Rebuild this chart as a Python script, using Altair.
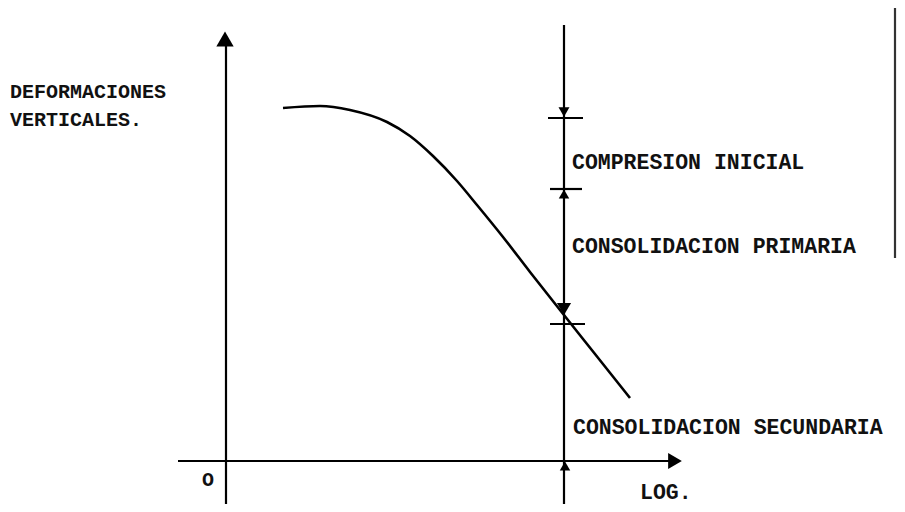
import altair as alt
import pandas as pd

# Curve (deformation vs log time), diagram units = reference pixels
curve_x = [283, 320, 350, 387, 410, 433, 457, 477, 503, 530, 560, 595, 630]
curve_y = [108, 106, 110, 122, 136, 156, 181, 205, 237, 272, 310, 354, 398]

# Line segments: axes, vertical reference line, tick marks, scan border
seg_x1 = [226, 178, 564, 548, 550, 550, 895]
seg_x2 = [226, 672, 564, 583, 582, 585, 895]
seg_y1 = [46, 461, 25, 118, 189, 324, 0]
seg_y2 = [512, 461, 512, 118, 189, 324, 258]
seg_col = ["#000", "#000", "#000", "#000", "#000", "#000", "#333"]

# Arrow heads / triangles
tri_x = [225, 675, 564, 564, 564, 565]
tri_y = [39, 461, 112, 194, 309, 466]
tri_shape = ["triangle-up", "triangle-right", "triangle-down", "triangle-up", "triangle-down", "triangle-up"]
tri_size = [300, 250, 120, 110, 200, 110]

# Labels
lab_text = ["DEFORMACIONES", "VERTICALES.", "COMPRESION INICIAL", "CONSOLIDACION PRIMARIA",
            "CONSOLIDACION SECUNDARIA", "LOG."]
lab_x = [10, 10, 572, 572, 573, 640]
lab_y = [92, 120, 163, 247, 428, 493]
lab_size = [20, 20, 21.5, 21.5, 21.5, 21.5]

origin_text = ["O"]
origin_x = [208]
origin_y = [480]

W, H = 889, 496
xs = alt.Scale(domain=[8, 8 + W], nice=False, zero=False)
ys = alt.Scale(domain=[8, 8 + H], nice=False, zero=False, reverse=True)
X = lambda f: alt.X(f, type="quantitative", scale=xs, axis=None)
Y = lambda f: alt.Y(f, type="quantitative", scale=ys, axis=None)

curve_df = pd.DataFrame({"x": curve_x, "y": curve_y})
seg_df = pd.DataFrame({"x": seg_x1, "x2": seg_x2, "y": seg_y1, "y2": seg_y2, "c": seg_col})
tri_df = pd.DataFrame({"x": tri_x, "y": tri_y, "shape": tri_shape, "size": tri_size})
lab_df = pd.DataFrame({"t": lab_text, "x": lab_x, "y": lab_y, "s": lab_size})
o_df = pd.DataFrame({"t": origin_text, "x": origin_x, "y": origin_y})

curve = alt.Chart(curve_df).mark_line(color="black", strokeWidth=2.6, interpolate="monotone").encode(
    x=X("x"), y=Y("y"))

segs = alt.Chart(seg_df).mark_rule(strokeWidth=2.2).encode(
    x=X("x"), x2="x2", y=Y("y"), y2="y2",
    color=alt.Color("c:N", scale=None, legend=None))

tris = alt.Chart(tri_df).mark_point(filled=True, color="black", opacity=1).encode(
    x=X("x"), y=Y("y"),
    shape=alt.Shape("shape:N", scale=None, legend=None),
    size=alt.Size("size:Q", scale=None, legend=None))

labels = alt.Chart(lab_df).mark_text(font="Liberation Mono", color="#111", align="left",
                                     baseline="middle", fontWeight="bold").encode(
    x=X("x"), y=Y("y"), text="t:N",
    size=alt.Size("s:Q", scale=None, legend=None))

origin = alt.Chart(o_df).mark_text(font="Liberation Mono", fontSize=20, color="#111",
                                   align="center", baseline="middle", fontWeight="bold").encode(
    x=X("x"), y=Y("y"), text="t:N")

chart = alt.layer(segs, curve, tris, labels, origin).properties(
    width=W, height=H, padding=0, autosize=alt.AutoSizeParams(type="none")
).configure(background="white").configure_view(stroke=None, strokeWidth=0)

chart.save("out.html", embed_options={"renderer": "svg", "actions": False})
